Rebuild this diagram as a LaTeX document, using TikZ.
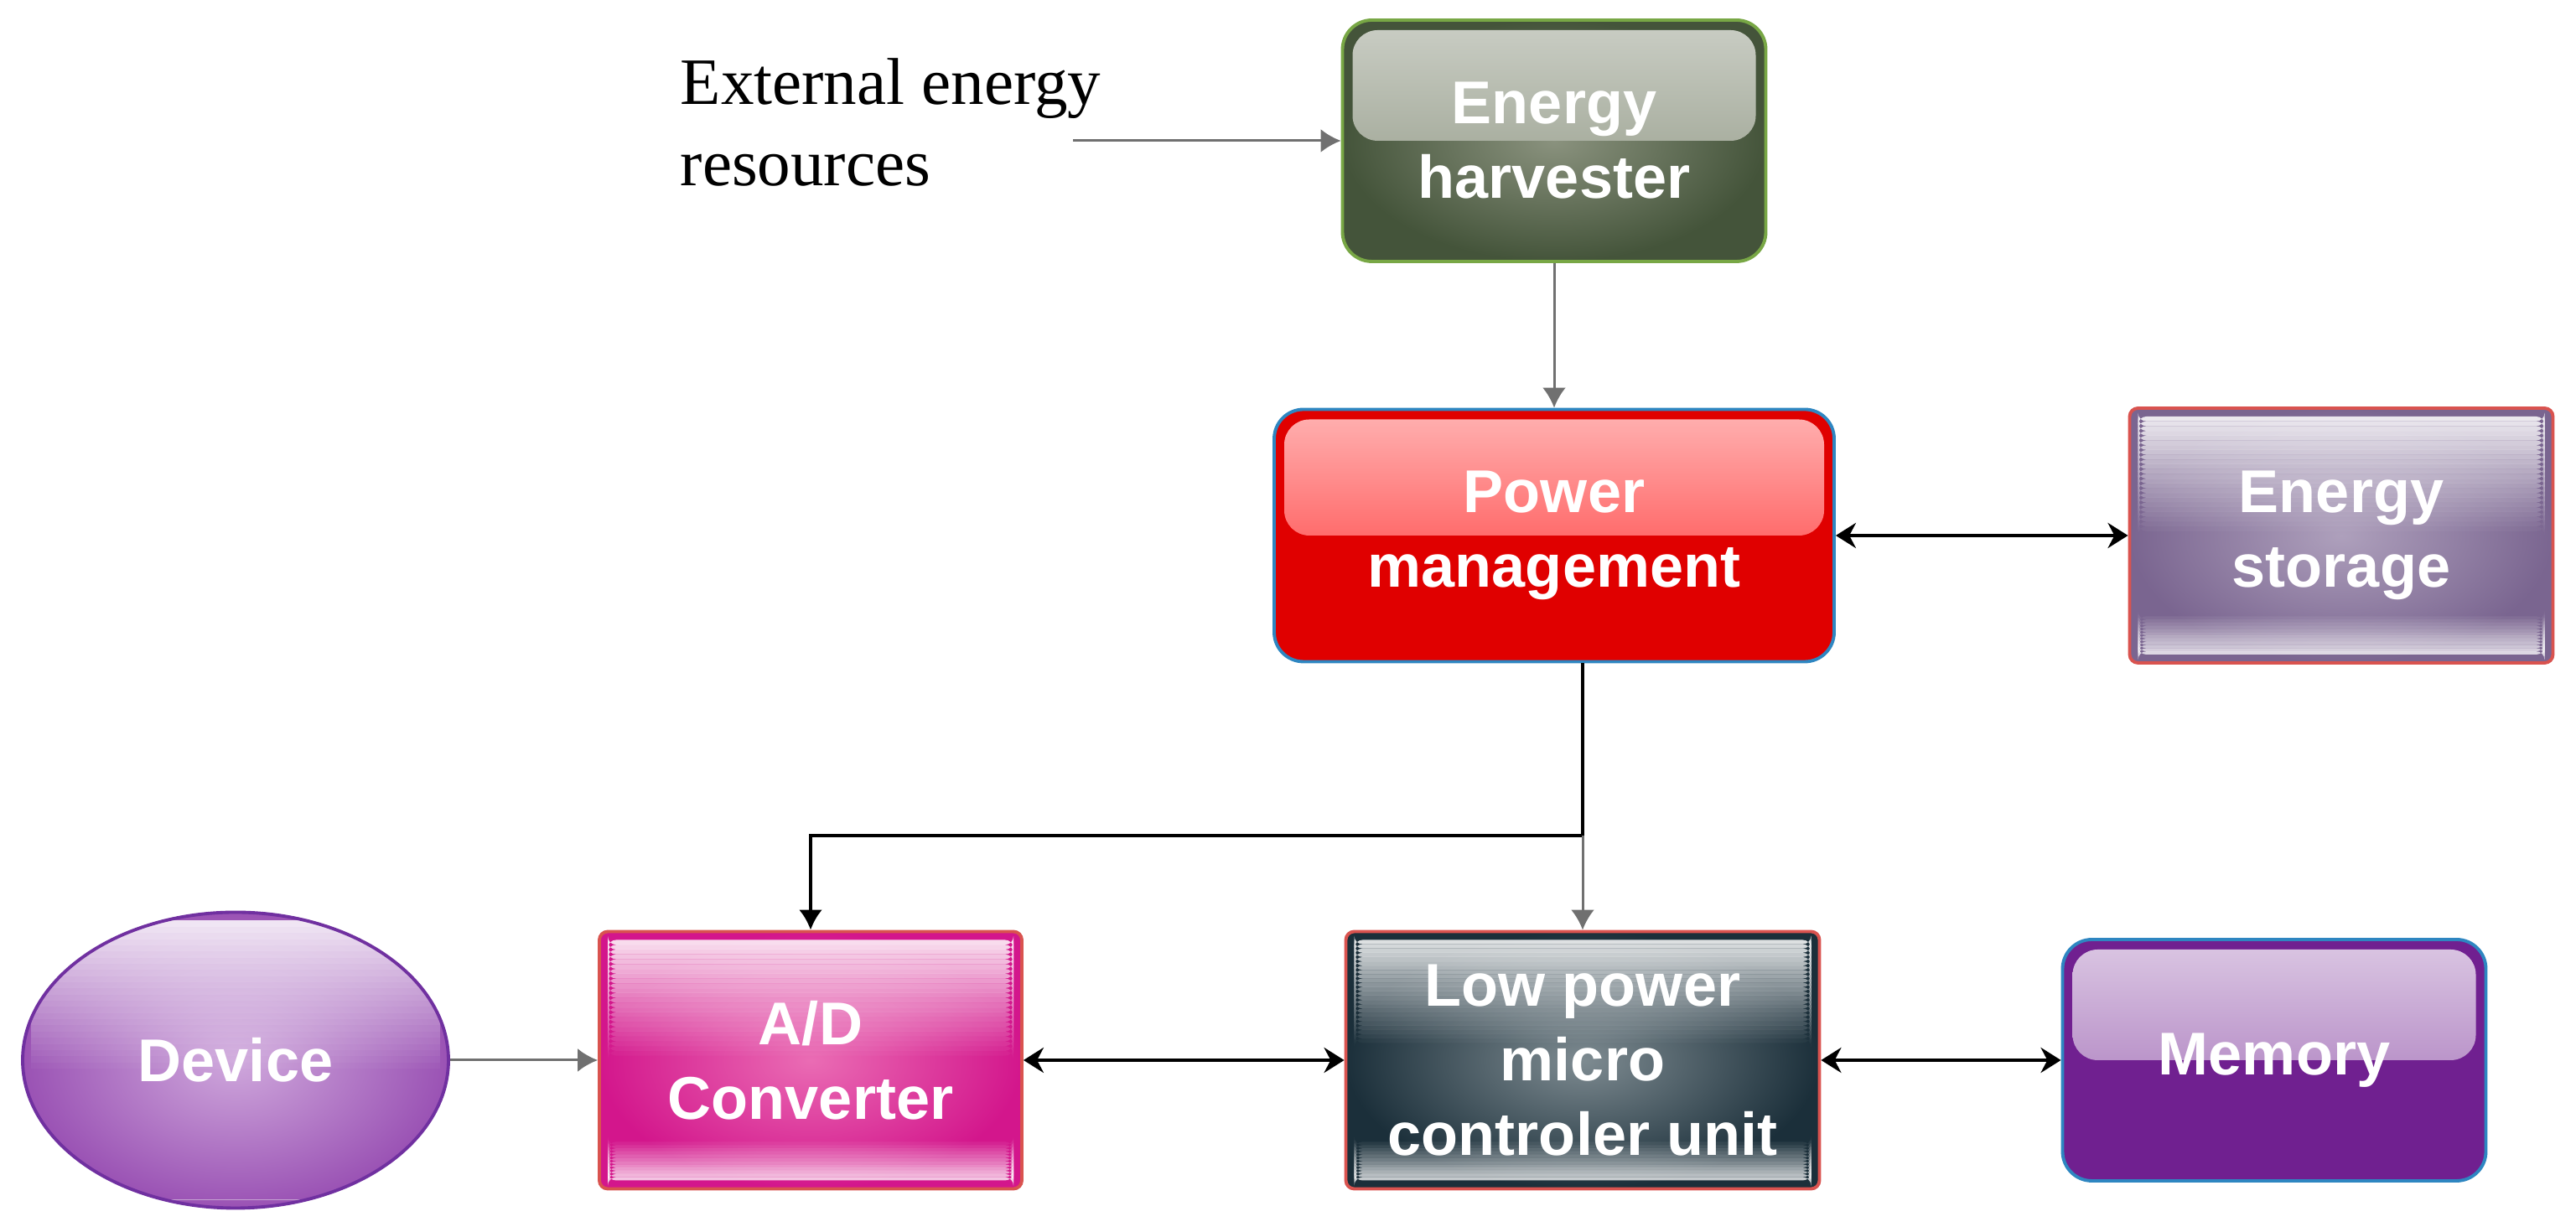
\documentclass[tikz,border=0pt]{standalone}
\usepackage{fontspec}
\setmainfont{Liberation Serif}
\setsansfont{Liberation Sans}
\usetikzlibrary{shapes.geometric,arrows.meta,calc}

\definecolor{ehdark}{HTML}{44543A}
\definecolor{ehmid}{HTML}{8A927E}
\definecolor{ehline}{HTML}{78A745}
\definecolor{pmred}{HTML}{E00000}
\definecolor{pmline}{HTML}{2E86C1}
\definecolor{esdark}{HTML}{7A6590}
\definecolor{esmid}{HTML}{AEA0BC}
\definecolor{boxred}{HTML}{D9534F}
\definecolor{devdark}{HTML}{9A52B4}
\definecolor{devmid}{HTML}{CFA8DC}
\definecolor{devline}{HTML}{7030A0}
\definecolor{addark}{HTML}{D3168C}
\definecolor{admid}{HTML}{EA6CB4}
\definecolor{mcudark}{HTML}{1B2F3A}
\definecolor{mcumid}{HTML}{7E8B91}
\definecolor{mempurple}{HTML}{702090}
\definecolor{arrowgray}{HTML}{707070}

\begin{document}
\begin{tikzpicture}[
    box/.style={draw, line width=1.1pt, minimum width=5.05cm, minimum height=3.05cm,
        inner sep=0pt, text=white, align=center,
        font=\sffamily\bfseries\fontsize{20.5}{25.3}\selectfont},
    glosstop/.style 2 args={path picture={
        \shade[top color=#1, bottom color=#2, rounded corners=0.3cm]
            ([xshift=0.12cm,yshift=-0.12cm]path picture bounding box.north west)
            rectangle ($(path picture bounding box.east)+(-0.12cm,0)$);}},
    % white strips that fade out downwards (top) or upwards (bottom)
    bands/.style 2 args={path picture={
        \foreach \i in {0,...,23}{
            \pgfmathsetmacro\ya{\i*#1/24}
            \pgfmathsetmacro\yb{(\i+1)*#1/24}
            \pgfmathsetmacro\op{0.85*(1-\i/24)}
            \fill[white, opacity=\op]
                ($(path picture bounding box.north west)!\ya!(path picture bounding box.south west)+(0.1,-0.1)$)
                rectangle ($(path picture bounding box.north east)!\yb!(path picture bounding box.south east)+(-0.1,-0.1)$);
        }
        \foreach \i in {0,...,11}{
            \pgfmathsetmacro\ya{\i*#2/12}
            \pgfmathsetmacro\yb{(\i+1)*#2/12}
            \pgfmathsetmacro\op{0.75*(1-\i/12)}
            \fill[white, opacity=\op]
                ($(path picture bounding box.south west)!\ya!(path picture bounding box.north west)+(0.1,0.1)$)
                rectangle ($(path picture bounding box.south east)!\yb!(path picture bounding box.north east)+(-0.1,0.1)$);
        }}},
    feed/.style={draw=arrowgray, line width=0.85pt, -{Latex[length=0.24cm,width=0.28cm]}},
    link/.style={draw=black, line width=1.15pt, {Stealth[length=0.24cm,width=0.3cm]}-{Stealth[length=0.24cm,width=0.3cm]}},
    power/.style={draw=black, line width=1.15pt}
]
    \useasboundingbox (0,0) rectangle (30.73,14.70);

    % Blocks
    \node[box, rounded corners=0.35cm, draw=ehline, minimum height=2.88cm,
          inner color=ehmid, outer color=ehdark, glosstop={ehmid!45!white}{ehmid}]
        (eh) at (18.54,13.02) {Energy\\harvester};
    \node[box, rounded corners=0.35cm, draw=pmline, minimum width=6.68cm, minimum height=3.01cm,
          fill=pmred, glosstop={red!30!white}{red!85!white}]
        (pm) at (18.54,8.31) {Power\\management};
    \node[box, rounded corners=0.1cm, draw=boxred, minimum height=3.04cm,
          inner color=esmid, outer color=esdark, bands={0.45}{0.15}]
        (es) at (27.93,8.31) {Energy\\storage};
    \node[box, ellipse, draw=devline, minimum width=5.08cm, minimum height=3.53cm,
          inner color=devmid, outer color=devdark, bands={0.5}{0}]
        (dev) at (2.81,2.05) {Device};
    \node[box, rounded corners=0.1cm, draw=boxred, minimum width=5.04cm, minimum height=3.07cm,
          inner color=admid, outer color=addark, bands={0.45}{0.15}]
        (ad) at (9.67,2.05) {A/D\\Converter};
    \node[box, rounded corners=0.1cm, draw=boxred, minimum width=5.65cm, minimum height=3.07cm,
          inner color=mcumid, outer color=mcudark, bands={0.4}{0.15}]
        (mcu) at (18.88,2.05) {Low power\\micro\\controler unit};
    \node[box, rounded corners=0.35cm, draw=pmline, minimum height=2.88cm,
          fill=mempurple, glosstop={mempurple!25!white}{mempurple!70!white}]
        (mem) at (27.13,2.05) {Memory};

    % Source text
    \node[anchor=west, inner sep=0pt, align=left, font=\fontsize{22.5}{27.6}\selectfont]
        (ext) at (8.11,13.24) {External energy\\resources};
    \coordinate (extin) at (12.8,13.02);
    \coordinate (jn) at (18.88,4.73);

    % Connectors
    \draw[feed] (extin) -- (eh);
    \draw[feed] (eh) -- (pm);
    \draw[link] (pm) -- (es);
    \draw[power] (pm.south -| jn) -- (jn);
    \draw[power, -{Latex[length=0.24cm,width=0.28cm]}] (jn) -| (ad);
    \draw[feed] (jn) -- (mcu);
    \draw[feed] (dev) -- (ad);
    \draw[link] (ad) -- (mcu);
    \draw[link] (mcu) -- (mem);
\end{tikzpicture}
\end{document}
